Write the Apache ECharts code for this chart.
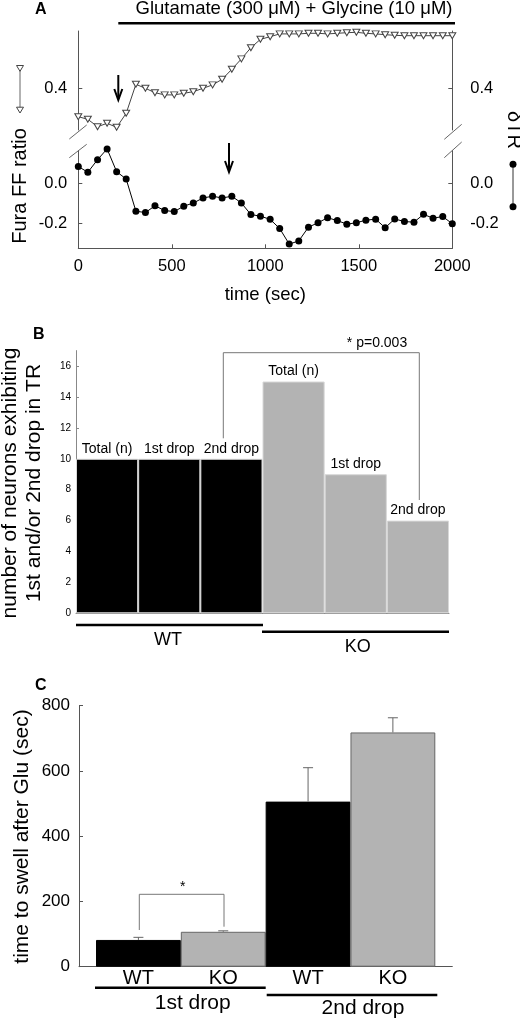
<!DOCTYPE html>
<html><head><meta charset="utf-8">
<script src="https://cdn.jsdelivr.net/npm/echarts@6/dist/echarts.min.js"></script>
<style>html,body{margin:0;padding:0;background:#fff}#c{width:520px;height:1019px}</style>
</head><body><div id="c"></div>
<script>
// ---- Panel A data ----
const timeSec = [0,51,103,154,205,256,308,359,410,462,513,564,615,667,718,769,821,872,923,974,1026,1077,1128,1179,1231,1282,1333,1385,1436,1487,1538,1590,1641,1692,1744,1795,1846,1897,1949,2000];
const furaRatio = [0.258,0.245,0.208,0.225,0.205,0.275,0.42,0.40,0.378,0.367,0.367,0.375,0.383,0.40,0.417,0.445,0.495,0.547,0.603,0.645,
                   0.658,0.672,0.672,0.672,0.675,0.675,0.672,0.675,0.678,0.68,0.675,0.672,0.668,0.665,0.663,0.663,0.663,0.663,0.663,0.663];
const deltaTR = [0.085,0.056,0.119,0.173,0.059,0.022,-0.139,-0.146,-0.112,-0.136,-0.141,-0.114,-0.098,-0.073,-0.064,-0.073,-0.064,-0.098,-0.156,-0.164,
                 -0.180,-0.226,-0.304,-0.288,-0.219,-0.197,-0.172,-0.186,-0.204,-0.197,-0.184,-0.179,-0.222,-0.178,-0.191,-0.194,-0.155,-0.174,-0.166,-0.202];
const ticksAUpper = [0.4];
const ticksALower = [0, -0.2];
// ---- Panel B data ----
const catsB = ['WT Total','WT 1st','WT 2nd','KO Total','KO 1st','KO 2nd'];
const barLabelsB = ['Total (n)','1st drop','2nd drop','Total (n)','1st drop','2nd drop'];
const groupB = ['WT','WT','WT','KO','KO','KO'];
const countsB = [10,10,10,15,9,6];
const ticksB = [0,2,4,6,8,10,12,14,16];
// ---- Panel C data ----
const catsC = ['1st WT','1st KO','2nd WT','2nd KO'];
const tickLabelsC = ['WT','KO','WT','KO'];
const timeC = [82,107,506,718];
const errC = [8,3,104,45];

const F = '"Liberation Sans", Arial, Helvetica, sans-serif';
const AX = '#555';
const GRAY = '#b3b3b3';
const chart = echarts.init(document.getElementById('c'), null, {renderer:'canvas'});

function txt(x,y,t,size,opts){
  opts = opts||{};
  return {type:'text', x:x, y:y, rotation:opts.rot||0, z:100,
    style:{text:t, fill:'#000', font:(opts.bold?'bold ':'')+size+'px '+F, fontSize:size, fontFamily:F, fontWeight:opts.bold?'bold':'normal',
      lineHeight:opts.lh, textAlign:opts.align||'center', textVerticalAlign:opts.valign||'middle', align:opts.align||'center', verticalAlign:opts.valign||'middle'}};
}
function ln(x1,y1,x2,y2,w,c){ return {type:'line', z:100, shape:{x1:x1,y1:y1,x2:x2,y2:y2}, style:{stroke:c||'#000', lineWidth:w||1}}; }
function pl(pts,w,c){ return {type:'polyline', z:100, shape:{points:pts}, style:{stroke:c||'#000', lineWidth:w||1, fill:null}}; }
function arrow(x,y1,y2){ return [ln(x,y1,x,y2-1,2), pl([[x-4,y2-11],[x,y2],[x+4,y2-11]],2)]; }
function tri(x,y){ return {type:'polygon', z:100, shape:{points:[[x-3.5,y-2.8],[x+3.5,y-2.8],[x,y+3]]}, style:{fill:'#fff', stroke:'#444', lineWidth:1}}; }
function dot(x,y){ return {type:'circle', z:100, shape:{cx:x,cy:y,r:3.5}, style:{fill:'#000'}}; }

const yA = (idx, pos, min, max, vals) => ({gridIndex:idx, type:'value', position:pos, min:min, max:max,
  axisLine:{show:true, lineStyle:{color:AX}}, axisTick:{show:true, inside:true, length:4, customValues:vals, lineStyle:{color:AX}},
  axisLabel:{customValues:vals, formatter:v=>Number(v).toFixed(1), fontSize:16.5, color:'#000', fontFamily:F, margin: pos==='left'?11:18},
  splitLine:{show:false}});

const option = {
  animation:false,
  grid:[
    {left:78.3, top:31, width:374, height:99},
    {left:78.3, top:150.5, width:374, height:97.8},
    {left:76, top:350.6, width:373, height:262.7},
    {left:79, top:705.7, width:373.3, height:261},
    {left:96, top:705.7, width:339.3, height:261}
  ],
  xAxis:[
    {gridIndex:0, type:'value', min:0, max:2000, show:false},
    {gridIndex:1, type:'value', min:0, max:2000, interval:500,
      axisLine:{onZero:false, lineStyle:{color:AX}}, axisTick:{inside:true, length:4, lineStyle:{color:AX}},
      axisLabel:{fontSize:16.5, color:'#000', margin:10, fontFamily:F, formatter:v=>String(v)}, splitLine:{show:false},
      name:'time (sec)', nameLocation:'middle', nameGap:37, nameTextStyle:{fontSize:18.5, color:'#000', fontFamily:F}},
    {gridIndex:2, type:'category', data:catsB, axisLine:{onZero:false, lineStyle:{color:'#888'}}, axisTick:{show:false}, axisLabel:{show:false}},
    {gridIndex:3, type:'value', min:0, max:1, axisLine:{onZero:false, lineStyle:{color:AX}}, axisTick:{show:false}, axisLabel:{show:false}, splitLine:{show:false}},
    {gridIndex:4, type:'category', data:catsC, axisLine:{show:false}, axisTick:{show:false},
      axisLabel:{fontSize:20, color:'#000', margin:2, fontFamily:F, formatter:(v,i)=>tickLabelsC[i]}}
  ],
  yAxis:[
    yA(0,'left',0.1915,0.6865,ticksAUpper),
    yA(0,'right',0.1915,0.6865,ticksAUpper),
    yA(1,'left',-0.325,0.165,ticksALower),
    yA(1,'right',-0.325,0.165,ticksALower),
    {gridIndex:2, type:'value', min:0, max:17, axisLine:{show:true, lineStyle:{color:'#888'}},
      axisTick:{show:true, inside:true, length:3, customValues:ticksB, lineStyle:{color:'#888'}},
      axisLabel:{customValues:ticksB, fontSize:10, color:'#000', margin:5, fontFamily:F}, splitLine:{show:false}},
    {gridIndex:3, type:'value', min:0, max:800, interval:200, axisLine:{show:true, lineStyle:{color:AX}},
      axisTick:{show:true, inside:true, length:4, lineStyle:{color:AX}},
      axisLabel:{fontSize:17, color:'#000', margin:9, fontFamily:F}, splitLine:{show:false}},
    {gridIndex:4, type:'value', min:0, max:800, show:false}
  ],
  series:[
    {type:'line', xAxisIndex:0, yAxisIndex:0, data:timeSec.map((t,i)=>[t,furaRatio[i]]), clip:false,
      symbol:'triangle', symbolRotate:180, symbolSize:[7,6], itemStyle:{color:'#fff', borderColor:'#444', borderWidth:1},
      lineStyle:{color:'#444', width:1}, z:3},
    {type:'line', xAxisIndex:1, yAxisIndex:2, data:timeSec.map((t,i)=>[t,deltaTR[i]]), clip:false,
      symbol:'circle', symbolSize:7, itemStyle:{color:'#000'}, lineStyle:{color:'#000', width:1}, z:3},
    {type:'bar', xAxisIndex:2, yAxisIndex:4, barCategoryGap:'0%',
      data:countsB.map((v,i)=>({value:v, itemStyle:{color: groupB[i]==='WT' ? '#000' : GRAY}})),
      itemStyle:{borderColor:'#d8d8d8', borderWidth:1},
      label:{show:true, position:'top', distance:3, fontSize:14, color:'#000', fontFamily:F, formatter:p=>barLabelsB[p.dataIndex]}},
    {type:'bar', xAxisIndex:4, yAxisIndex:6, barCategoryGap:'0%',
      data:timeC.map((v,i)=>({value:v, itemStyle:{color: i%2===0 ? '#000' : GRAY, borderColor: i%2===0 ? '#000' : '#666', borderWidth:1}}))},
    {type:'custom', xAxisIndex:4, yAxisIndex:6, z:5,
      data:timeC.map((v,i)=>[i, v, errC[i]]),
      renderItem:(params, api)=>{
        const x = api.value(0), v = api.value(1), e = api.value(2);
        const p0 = api.coord([x, v]), p1 = api.coord([x, v+e]);
        return {type:'group', children:[
          {type:'line', shape:{x1:p0[0], y1:p0[1], x2:p1[0], y2:p1[1]}, style:{stroke:'#666', lineWidth:1}},
          {type:'line', shape:{x1:p1[0]-5, y1:p1[1], x2:p1[0]+5, y2:p1[1]}, style:{stroke:'#666', lineWidth:1}}
        ]};
      }}
  ],
  graphic:[].concat(
    [txt(35,10,'A',16,{bold:true,align:'left'}),
     txt(294,9,'Glutamate (300 \u03BCM) + Glycine (10 \u03BCM)',18.5),
     ln(118.3,23.3,455,23.3,2.5)],
    arrow(118.3,75,100), arrow(229,143,172),
    [ln(69.3,139,86.7,125,1,'#666'), ln(69.3,157.7,86.7,144.3,1,'#666'),
     ln(444.3,139.3,461.7,124.3,1,'#666'), ln(444.3,157.7,461.7,142,1,'#666'),
     ln(20,68,20,110,1,'#666'), tri(20,68.3), tri(20,110),
     ln(513,164.3,513,206.7,1,'#333'), dot(513,164.3), dot(513,206.7),
     txt(20,186,'Fura FF ratio',20,{rot:Math.PI/2}),
     txt(514,130,'\u03B4TR',20,{rot:-Math.PI/2}),
     txt(33,335,'B',16,{bold:true,align:'left'}),
     txt(22,483,'number of neurons exhibiting\n1st and/or 2nd drop in TR',21,{rot:Math.PI/2, lh:24}),
     pl([[223.3,438.3],[223.3,352.7],[419.3,352.7],[419.3,500]],1,'#777'),
     txt(377,343,'* p=0.003',14),
     ln(76,625,263,625,2.5), txt(168,640,'WT',18),
     ln(262,631.7,449,631.7,2.5), txt(357.7,646.7,'KO',18),
     txt(35,686,'C',16,{bold:true,align:'left'}),
     txt(22,836.5,'time to swell after Glu (sec)',21,{rot:Math.PI/2}),
     pl([[139.3,930],[139.3,894.3],[224,894.3],[224,926.7]],1,'#777'),
     txt(182.7,887,'*',14),
     ln(95,987.7,265.7,987.7,2.5), txt(192.7,1003,'1st drop',21),
     ln(266.7,995,437.3,995,2.5), txt(363,1008.3,'2nd drop',21)]
  )
};
chart.setOption(option);
</script></body></html>
